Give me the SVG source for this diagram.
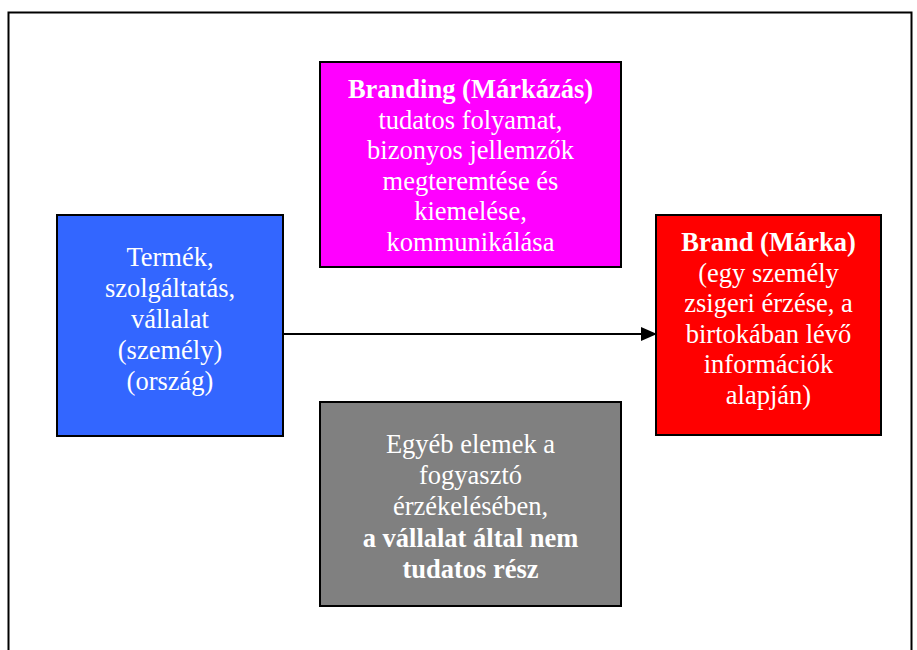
<svg xmlns="http://www.w3.org/2000/svg" width="917" height="650" viewBox="0 0 917 650">
<style>
.box{stroke:#000;stroke-width:2}
.t{font-family:"Liberation Serif","Times New Roman",serif;font-size:26.5px;fill:#fff;text-anchor:middle}
.b{font-weight:bold}
</style>
<defs>
<marker id="arr" markerWidth="16" markerHeight="14" refX="15" refY="7" orient="auto" markerUnits="userSpaceOnUse">
<path d="M0,0 L16,7 L0,14 Z" fill="#000"/>
</marker>
</defs>
<rect x="0" y="0" width="917" height="650" fill="#fff"/>
<rect x="8.5" y="12.5" width="903" height="660" fill="none" stroke="#000" stroke-width="2"/>
<g id="connectors">
<line x1="283" y1="334" x2="656" y2="334" stroke="#000" stroke-width="2" marker-end="url(#arr)"/>
</g>
<g id="branding">
<rect class="box" x="320" y="62" width="301" height="205" fill="#FF00FF"/>
<text class="t"><tspan class="b" x="470.5" y="98">Branding (Márkázás)</tspan><tspan x="470.5" y="128.6">tudatos folyamat,</tspan><tspan x="470.5" y="159.2">bizonyos jellemzők</tspan><tspan x="470.5" y="189.8">megteremtése és</tspan><tspan x="470.5" y="220.4">kiemelése,</tspan><tspan x="470.5" y="251">kommunikálása</tspan></text>
</g>
<g id="termek">
<rect class="box" x="57" y="215" width="226" height="221" fill="#3366FF"/>
<text class="t"><tspan x="170" y="266">Termék,</tspan><tspan x="170" y="297">szolgáltatás,</tspan><tspan x="170" y="328">vállalat</tspan><tspan x="170" y="359">(személy)</tspan><tspan x="170" y="390">(ország)</tspan></text>
</g>
<g id="brand">
<rect class="box" x="656" y="215" width="225" height="220" fill="#FF0000"/>
<text class="t"><tspan class="b" x="768.5" y="251">Brand (Márka)</tspan><tspan x="768.5" y="281.5">(egy személy</tspan><tspan x="768.5" y="312">zsigeri érzése, a</tspan><tspan x="768.5" y="342.5">birtokában lévő</tspan><tspan x="768.5" y="373">információk</tspan><tspan x="768.5" y="403.5">alapján)</tspan></text>
</g>
<g id="egyeb">
<rect class="box" x="320" y="402" width="301" height="204" fill="#808080"/>
<text class="t"><tspan x="470.5" y="453">Egyéb elemek a</tspan><tspan x="470.5" y="484">fogyasztó</tspan><tspan x="470.5" y="515">érzékelésében,</tspan><tspan class="b" x="470.5" y="546.5">a vállalat által nem</tspan><tspan class="b" x="470.5" y="577.5">tudatos rész</tspan></text>
</g>
</svg>
